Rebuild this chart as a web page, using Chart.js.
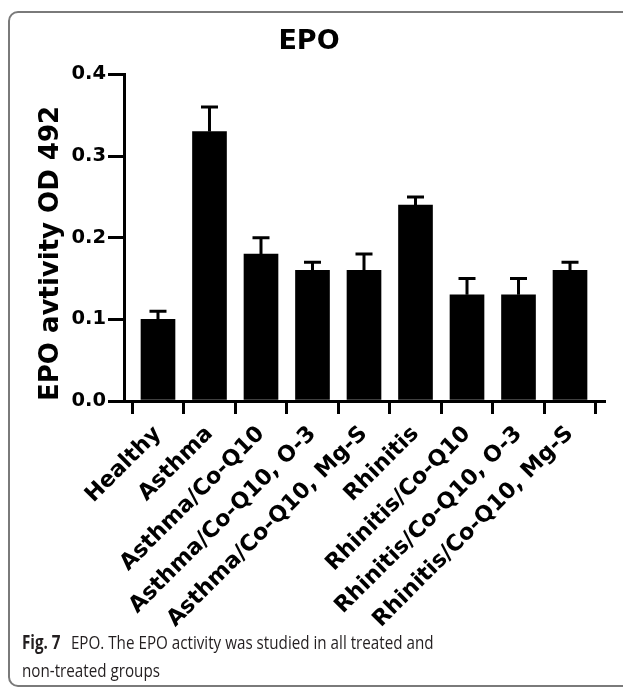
<!DOCTYPE html>
<html lang="en">
<head>
  <meta charset="UTF-8" />
  <title>EPO</title>
  <style>
    html, body { margin: 0; padding: 0; background: #fff; }
    #wrap { position: relative; width: 623px; height: 687px; overflow: hidden; }
    #frame {
      position: absolute; left: 8px; top: 11px; width: 700px; height: 676px;
      border: 2px solid #7a7a7a; border-radius: 10px 0 0 10px; box-sizing: border-box;
    }
    #graph { position: absolute; left: 0; top: 0; }
    #caption {
      position: absolute; left: 22px; top: 628px; width: 640px;
      font-family: "Open Sans", "Noto Sans", sans-serif; font-size: 19px; line-height: 28px;
      color: #231f20; transform: scaleX(0.8); transform-origin: 0 0; white-space: nowrap;
    }
    #caption b { font-weight: 700; margin-right: 8px; }
  </style>
</head>
<body>
<div id="wrap">
  <div id="frame"></div>
  <canvas id="graph" width="623" height="687"></canvas>
  <div id="caption"><b>Fig. 7</b> EPO. The EPO activity was studied in all treated and<br>non-treated groups</div>
</div>

<script src="https://cdn.jsdelivr.net/npm/chart.js"></script>
<script>
// 그룹과 값
const groups = ['Healthy', 'Asthma', 'Asthma/Co-Q10', 'Asthma/Co-Q10, O-3', 'Asthma/Co-Q10, Mg-S',
                'Rhinitis', 'Rhinitis/Co-Q10', 'Rhinitis/Co-Q10, O-3', 'Rhinitis/Co-Q10, Mg-S'];
const means = [0.10, 0.33, 0.18, 0.16, 0.16, 0.24, 0.13, 0.13, 0.16];
const errTop = [0.11, 0.36, 0.20, 0.17, 0.18, 0.25, 0.15, 0.15, 0.17];
const yTicks = [0.0, 0.1, 0.2, 0.3, 0.4];

const FONT = 'DejaVu Sans, Verdana, sans-serif';

// 위쪽 오차 막대만
const errorBars = {
  id: 'errorBars',
  afterDatasetsDraw(chart) {
    const { ctx, scales: { x, y } } = chart;
    ctx.save();
    ctx.strokeStyle = '#000';
    ctx.lineWidth = 3;
    means.forEach((m, i) => {
      const px = x.getPixelForValue(i);
      const y0 = y.getPixelForValue(m);
      const y1 = y.getPixelForValue(errTop[i]);
      ctx.beginPath();
      ctx.moveTo(px, y0);
      ctx.lineTo(px, y1);
      ctx.moveTo(px - 8.5, y1);
      ctx.lineTo(px + 8.5, y1);
      ctx.stroke();
    });
    ctx.restore();
  }
};

const ctx = document.getElementById('graph').getContext('2d');
new Chart(ctx, {
  type: 'bar',
  data: {
    datasets: [{
      data: means.map((v, i) => ({ x: i, y: v })),
      backgroundColor: '#000',
      barThickness: 34
    }]
  },
  options: {
    responsive: false,
    animation: false,
    layout: { padding: { left: 14, right: 19, top: 0, bottom: 0 } },
    plugins: {
      legend: { display: false },
      tooltip: { enabled: false },
      title: {
        display: true, text: 'EPO', color: '#000',
        font: { family: FONT, size: 27, weight: 'bold' },
        padding: { top: 26, bottom: 16 }
      }
    },
    scales: {
      x: {
        type: 'linear', min: -0.66, max: 8.66, offset: false,
        afterBuildTicks: s => { s.ticks = groups.map((g, i) => ({ value: i })); },
        afterFit: s => { s.height = 687 - 401; },
        ticks: {
          autoSkip: false, minRotation: 45, maxRotation: 45, padding: 7, color: '#000',
          font: { family: FONT, size: 22.2, weight: 'bold' },
          callback: v => groups[v]
        },
        grid: { drawOnChartArea: false, drawTicks: true, tickLength: 13, lineWidth: 3, color: '#000' },
        border: { width: 3, color: '#000' }
      },
      y: {
        min: 0, max: 0.4,
        afterBuildTicks: s => { s.ticks = yTicks.map(v => ({ value: v })); },
        afterFit: s => { s.width = 110; },
        ticks: {
          padding: 2, color: '#000',
          font: { family: FONT, size: 19.5, weight: 'bold' },
          callback: v => v.toFixed(1)
        },
        grid: { drawOnChartArea: false, drawTicks: true, tickLength: 16, lineWidth: 3, color: '#000' },
        border: { width: 3, color: '#000' },
        title: {
          display: true, text: 'EPO avtivity OD 492', color: '#000', align: 'start',
          padding: { top: 22, bottom: 0 },
          font: { family: FONT, size: 26, weight: 'bold' }
        }
      }
    }
  },
  plugins: [errorBars]
});
</script>
</body>
</html>
